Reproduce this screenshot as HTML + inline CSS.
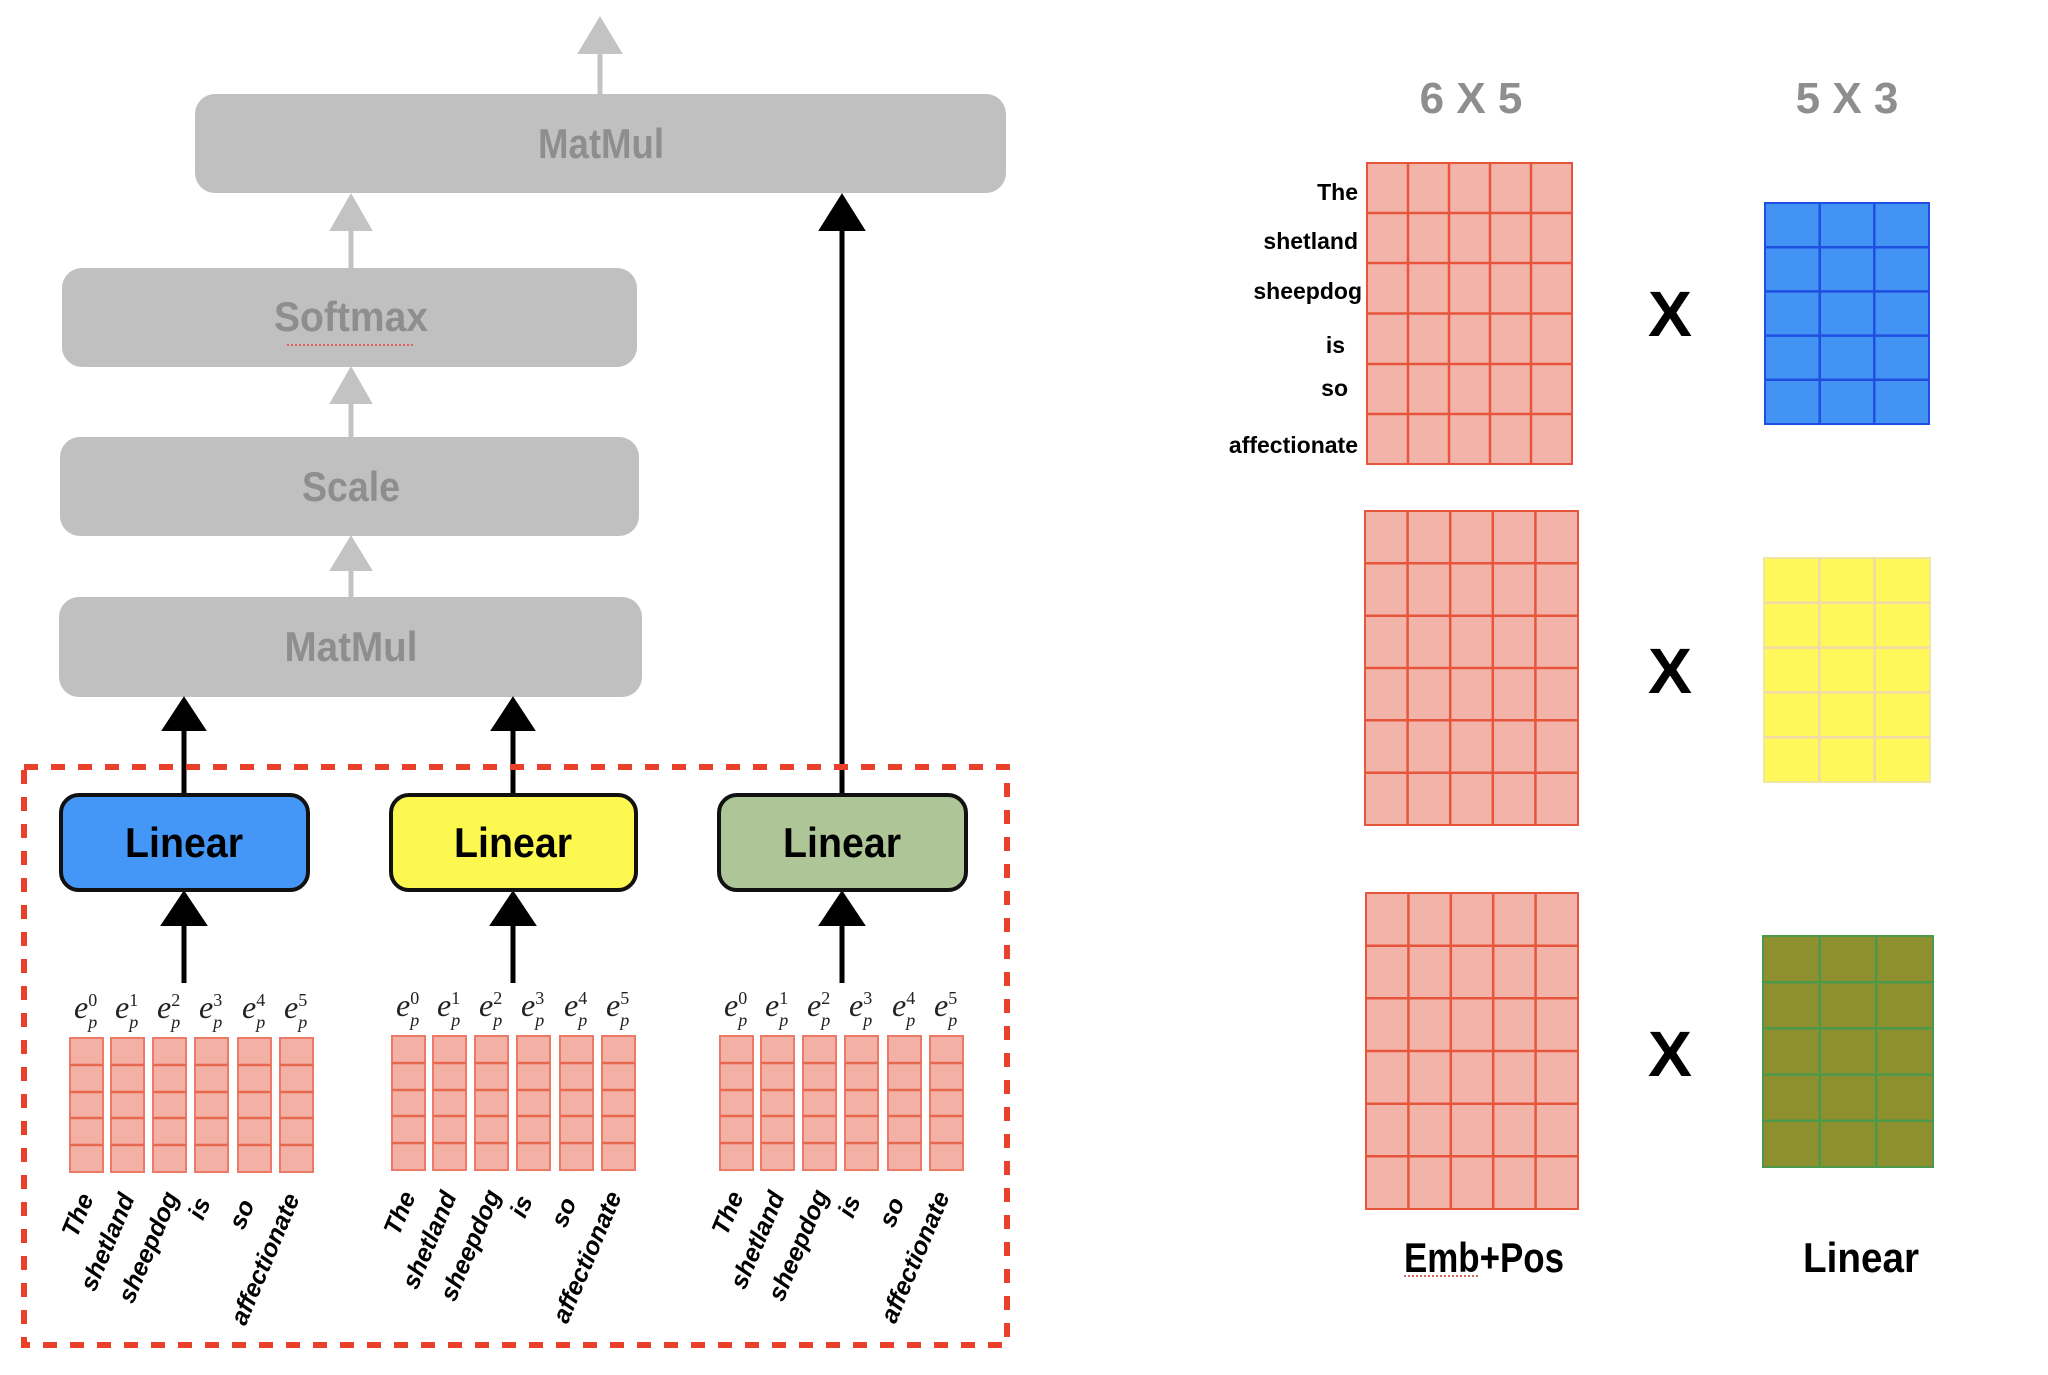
<!DOCTYPE html>
<html><head><meta charset="utf-8"><style>
html,body{margin:0;padding:0;background:#fff;}
svg{display:block;}
text{font-family:"Liberation Sans",sans-serif;}
.ser,.ser tspan{font-family:"Liberation Serif",serif;}
</style></head><body>
<svg width="2048" height="1375" viewBox="0 0 2048 1375" xmlns="http://www.w3.org/2000/svg">
<defs>
<g id="col">
<rect x="0" y="0" width="33" height="134" fill="#f2b1a4" stroke="#ec7a66" stroke-width="2"/>
<path d="M0 27H33M0 54H33M0 80H33M0 107H33" stroke="#e8674f" stroke-width="2.5"/>
</g>
</defs>

<g fill="#c0c0c0">
<rect x="195" y="94" width="811" height="99" rx="20"/>
<rect x="62" y="268" width="575" height="99" rx="20"/>
<rect x="60" y="437" width="579" height="99" rx="20"/>
<rect x="59" y="597" width="583" height="100" rx="20"/>
</g>
<g fill="#8e8e8e" font-weight="bold" font-size="42" text-anchor="middle">
<text x="601" y="158" textLength="126" lengthAdjust="spacingAndGlyphs">MatMul</text>
<text x="351" y="331" textLength="154" lengthAdjust="spacingAndGlyphs">Softmax</text>
<text x="351" y="501" textLength="98" lengthAdjust="spacingAndGlyphs">Scale</text>
<text x="351" y="661" textLength="133" lengthAdjust="spacingAndGlyphs">MatMul</text>
</g>
<path d="M287 345H414" stroke="#e06060" stroke-width="2" stroke-dasharray="2 2"/>
<g stroke="#c3c3c3" stroke-width="5" fill="#c3c3c3">
<line x1="600" y1="94" x2="600" y2="50"/>
<path d="M600 18 L621 53 L579 53 Z" stroke-width="2"/>
<line x1="351" y1="268" x2="351" y2="225"/>
<path d="M351 195 L371 230 L331 230 Z" stroke-width="2"/>
<line x1="351" y1="437" x2="351" y2="400"/>
<path d="M351 368 L371 403 L331 403 Z" stroke-width="2"/>
<line x1="351" y1="597" x2="351" y2="560"/>
<path d="M351 537 L371 570 L331 570 Z" stroke-width="2"/>
</g>

<g stroke="#000" stroke-width="5" fill="#000">
<line x1="184" y1="793" x2="184" y2="720"/>
<path d="M184 698 L205 730 L163 730 Z" stroke-width="2"/>
<line x1="513" y1="793" x2="513" y2="720"/>
<path d="M513 698 L534 730 L492 730 Z" stroke-width="2"/>
<line x1="842" y1="793" x2="842" y2="220"/>
<path d="M842 195 L864 230 L820 230 Z" stroke-width="2"/>
<line x1="184" y1="983" x2="184" y2="915"/>
<path d="M184 892 L206 925 L162 925 Z" stroke-width="2"/>
<line x1="513" y1="983" x2="513" y2="915"/>
<path d="M513 892 L535 925 L491 925 Z" stroke-width="2"/>
<line x1="842" y1="983" x2="842" y2="915"/>
<path d="M842 892 L864 925 L820 925 Z" stroke-width="2"/>
</g>

<rect x="24" y="767" width="983" height="578" fill="none" stroke="#e8402a" stroke-width="6" stroke-dasharray="14 13"/>

<rect x="61" y="795" width="247" height="95" rx="18" fill="#4497f7" stroke="#111" stroke-width="4"/>
<rect x="391" y="795" width="245" height="95" rx="18" fill="#fdf84f" stroke="#111" stroke-width="4"/>
<rect x="719" y="795" width="247" height="95" rx="18" fill="#adc597" stroke="#111" stroke-width="4"/>
<g font-weight="bold" font-size="42" text-anchor="middle" fill="#000">
<text x="184" y="857" textLength="118" lengthAdjust="spacingAndGlyphs">Linear</text>
<text x="513" y="857" textLength="118" lengthAdjust="spacingAndGlyphs">Linear</text>
<text x="842" y="857" textLength="118" lengthAdjust="spacingAndGlyphs">Linear</text>
</g>

<g id="grp">
<use href="#col" x="70" y="1038"/><use href="#col" x="111" y="1038"/><use href="#col" x="153" y="1038"/>
<use href="#col" x="195" y="1038"/><use href="#col" x="238" y="1038"/><use href="#col" x="280" y="1038"/>
<g font-style="italic" fill="#222">
<text class="ser" x="74" y="1018" font-size="32">e<tspan dy="-12" font-size="18" font-style="normal">0</tspan><tspan dx="-9" dy="22" font-size="18">p</tspan></text>
<text class="ser" x="115" y="1018" font-size="32">e<tspan dy="-12" font-size="18" font-style="normal">1</tspan><tspan dx="-9" dy="22" font-size="18">p</tspan></text>
<text class="ser" x="157" y="1018" font-size="32">e<tspan dy="-12" font-size="18" font-style="normal">2</tspan><tspan dx="-9" dy="22" font-size="18">p</tspan></text>
<text class="ser" x="199" y="1018" font-size="32">e<tspan dy="-12" font-size="18" font-style="normal">3</tspan><tspan dx="-9" dy="22" font-size="18">p</tspan></text>
<text class="ser" x="242" y="1018" font-size="32">e<tspan dy="-12" font-size="18" font-style="normal">4</tspan><tspan dx="-9" dy="22" font-size="18">p</tspan></text>
<text class="ser" x="284" y="1018" font-size="32">e<tspan dy="-12" font-size="18" font-style="normal">5</tspan><tspan dx="-9" dy="22" font-size="18">p</tspan></text>
</g>
<g font-weight="bold" font-style="italic" font-size="25" text-anchor="end" fill="#000">
<text transform="translate(94,1198) rotate(-67)">The</text>
<text transform="translate(135,1198) rotate(-67)">shetland</text>
<text transform="translate(179,1196) rotate(-67)">sheepdog</text>
<text transform="translate(211,1202) rotate(-67)">is</text>
<text transform="translate(255,1204) rotate(-67)">so</text>
<text transform="translate(300,1198) rotate(-67)">affectionate</text>
</g>
</g>
<use href="#grp" x="322" y="-2"/>
<use href="#grp" x="650" y="-2"/>

<g fill="#8e8e8e" font-weight="bold" font-size="44" text-anchor="middle">
<text x="1471" y="113">6 X 5</text>
<text x="1847" y="113">5 X 3</text>
</g>
<g font-weight="bold" font-size="23" text-anchor="end" fill="#000">
<text x="1358" y="200">The</text>
<text x="1358" y="249">shetland</text>
<text x="1362" y="299">sheepdog</text>
<text x="1345" y="353">is</text>
<text x="1348" y="396">so</text>
<text x="1358" y="453">affectionate</text>
</g>

<rect x="1367" y="163" width="205" height="301" fill="#f2b4a9" stroke="#e8553d" stroke-width="2"/>
<path d="M1408 163V464M1449 163V464M1490 163V464M1531 163V464M1367 213H1572M1367 263H1572M1367 313.5H1572M1367 364H1572M1367 414H1572" stroke="#e8553d" stroke-width="2.5"/>

<rect x="1365" y="511" width="213" height="314" fill="#f2b4a9" stroke="#e8553d" stroke-width="2"/>
<path d="M1407.6 511V825M1450.2 511V825M1492.8 511V825M1535.4 511V825M1365 563.3H1578M1365 615.7H1578M1365 668H1578M1365 720.3H1578M1365 772.7H1578" stroke="#e8553d" stroke-width="2.5"/>

<rect x="1366" y="893" width="212" height="316" fill="#f2b4a9" stroke="#e8553d" stroke-width="2"/>
<path d="M1408.4 893V1209M1450.8 893V1209M1493.2 893V1209M1535.6 893V1209M1366 945.7H1578M1366 998.3H1578M1366 1051H1578M1366 1103.7H1578M1366 1156.3H1578" stroke="#e8553d" stroke-width="2.5"/>

<rect x="1765" y="203" width="164" height="221" fill="#4393f5" stroke="#1f4fe0" stroke-width="2"/>
<path d="M1819.7 203V424M1874.3 203V424M1765 247.2H1929M1765 291.4H1929M1765 335.6H1929M1765 379.8H1929" stroke="#1f4fe0" stroke-width="2.5"/>

<rect x="1764" y="558" width="166" height="224" fill="#fff85a" stroke="#f3e6a0" stroke-width="2"/>
<path d="M1819.3 558V782M1874.7 558V782M1764 602.8H1930M1764 647.6H1930M1764 692.4H1930M1764 737.2H1930" stroke="#f2d9a8" stroke-width="2.5"/>

<rect x="1763" y="936" width="170" height="231" fill="#8e8f2e" stroke="#4a9a4a" stroke-width="2"/>
<path d="M1819.7 936V1167M1876.3 936V1167M1763 982.2H1933M1763 1028.4H1933M1763 1074.6H1933M1763 1120.8H1933" stroke="#4a9a4a" stroke-width="2.5"/>

<g font-weight="bold" font-size="64" text-anchor="middle" fill="#000">
<text x="1670" y="336" textLength="44" lengthAdjust="spacingAndGlyphs">X</text>
<text x="1670" y="693" textLength="44" lengthAdjust="spacingAndGlyphs">X</text>
<text x="1670" y="1076" textLength="44" lengthAdjust="spacingAndGlyphs">X</text>
</g>
<g font-weight="bold" font-size="42" text-anchor="middle" fill="#000">
<text x="1484" y="1272" textLength="160" lengthAdjust="spacingAndGlyphs">Emb+Pos</text>
<text x="1861" y="1272" textLength="116" lengthAdjust="spacingAndGlyphs">Linear</text>
</g>
<path d="M1404 1276H1480" stroke="#e06060" stroke-width="2" stroke-dasharray="2 2"/>
</svg>
</body></html>
